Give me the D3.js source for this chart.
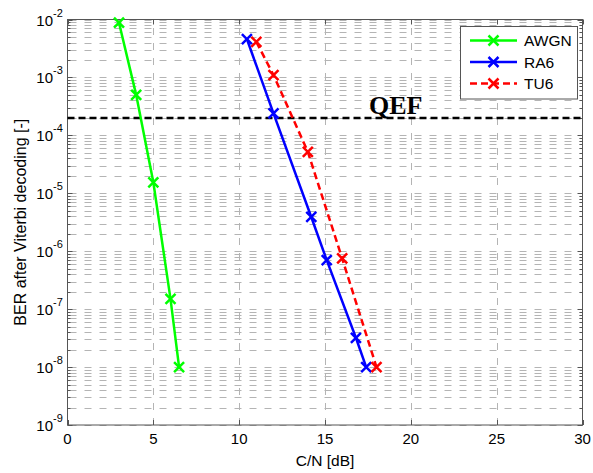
<!DOCTYPE html>
<html>
<head>
<meta charset="utf-8">
<script src="https://cdn.jsdelivr.net/npm/d3@7"></script>
<style>
  html, body { margin: 0; padding: 0; background: #fff; }
  svg { display: block; }
  text { font-family: "Liberation Sans", Arial, Helvetica, sans-serif; }
</style>
</head>
<body>
<svg id="chart" width="593" height="473"></svg>
<script>
// ---- data ----
const seriesNames = ["AWGN", "RA6", "TU6"];
const awgnX = [3, 4, 5, 6, 6.5];
const awgnY = [8.8e-3, 5e-4, 1.55e-5, 1.5e-7, 1e-8];
const ra6X = [10.45, 12, 14.2, 15.1, 16.8, 17.4];
const ra6Y = [4.6e-3, 2.4e-4, 3.9e-6, 7e-7, 3.2e-8, 1e-8];
const tu6X = [11, 12, 14, 16, 18];
const tu6Y = [4.1e-3, 1.1e-3, 5.2e-5, 7.5e-7, 1e-8];
const qefLevel = 2e-4;
const xTicks = [0, 5, 10, 15, 20, 25, 30];
const yExponents = [-2, -3, -4, -5, -6, -7, -8, -9];
const xLabel = "C/N [dB]";
const yLabel = "BER after Viterbi decoding [-]";
const qefLabel = "QEF";

// ---- layout ----
const L = 67.5, R = 582.5, T = 19.5, B = 425;
const svg = d3.select("#chart");
const x = d3.scaleLinear().domain([0, 30]).range([L, R]);
const y = d3.scaleLog().domain([1e-9, 1e-2]).range([B, T]);

const colors = { AWGN: "#00ff00", RA6: "#0000ff", TU6: "#ff0000" };
const dashes = { AWGN: null, RA6: null, TU6: "7,4" };
const data = [
  { name: "AWGN", pts: awgnX.map((v, i) => [v, awgnY[i]]) },
  { name: "RA6", pts: ra6X.map((v, i) => [v, ra6Y[i]]) },
  { name: "TU6", pts: tu6X.map((v, i) => [v, tu6Y[i]]) }
];

// ---- grid ----
const grid = svg.append("g");
const minorVals = [];
for (let e = -9; e < -2; e++) for (let m = 1; m <= 9; m++) minorVals.push(m * Math.pow(10, e));
minorVals.push(1e-2);
grid.selectAll("line.h").data(minorVals).enter().append("line")
  .attr("x1", L + 2).attr("x2", R)
  .attr("y1", d => Math.round(y(d)) + 0.5).attr("y2", d => Math.round(y(d)) + 0.5)
  .attr("stroke", "#b4b4b4").attr("stroke-width", 1).attr("stroke-dasharray", "7,8");
grid.selectAll("line.v").data(xTicks.slice(1, -1)).enter().append("line")
  .attr("x1", d => Math.round(x(d)) + 0.5).attr("x2", d => Math.round(x(d)) + 0.5)
  .attr("y1", B).attr("y2", T)
  .attr("stroke", "#b4b4b4").attr("stroke-width", 1).attr("stroke-dasharray", "7,8");

// ---- axes box & ticks ----
const ax = svg.append("g");
ax.append("rect").attr("x", L).attr("y", T).attr("width", R - L).attr("height", B - T)
  .attr("fill", "none").attr("stroke", "#555").attr("stroke-width", 1);
xTicks.forEach(t => {
  const px = Math.round(x(t)) + 0.5;
  ax.append("line").attr("x1", px).attr("x2", px).attr("y1", B).attr("y2", B - 5).attr("stroke", "#555");
  ax.append("line").attr("x1", px).attr("x2", px).attr("y1", T).attr("y2", T + 5).attr("stroke", "#555");
  ax.append("text").attr("x", x(t)).attr("y", 444).attr("text-anchor", "middle")
    .attr("font-size", 15).attr("fill", "#000").text(t);
});
minorVals.forEach(v => {
  const py = Math.round(y(v)) + 0.5;
  const major = Math.abs(Math.log10(v) - Math.round(Math.log10(v))) < 1e-9;
  const len = major ? 5 : 3;
  ax.append("line").attr("x1", L).attr("x2", L + len).attr("y1", py).attr("y2", py).attr("stroke", "#555");
  ax.append("line").attr("x1", R).attr("x2", R - len).attr("y1", py).attr("y2", py).attr("stroke", "#555");
});
yExponents.forEach(e => {
  const py = y(Math.pow(10, e));
  ax.append("text").attr("x", 53).attr("y", py + 6).attr("text-anchor", "end")
    .attr("font-size", 15).attr("fill", "#000").text("10");
  ax.append("text").attr("x", 53).attr("y", py - 3).attr("text-anchor", "start")
    .attr("font-size", 11).attr("fill", "#000").text(String(e));
});

// axis labels
svg.append("text").attr("x", (L + R) / 2).attr("y", 466).attr("text-anchor", "middle")
  .attr("font-size", 15.5).attr("fill", "#000").text(xLabel);
svg.append("text").attr("transform", `translate(25.5,${(T + B) / 2}) rotate(-90)`)
  .attr("text-anchor", "middle").attr("font-size", 16).attr("fill", "#000").text(yLabel);

// ---- QEF line ----
svg.append("line").attr("x1", L).attr("x2", R).attr("y1", y(qefLevel)).attr("y2", y(qefLevel))
  .attr("stroke", "#000").attr("stroke-width", 2.5).attr("stroke-dasharray", "7,4");
svg.append("text").attr("x", 369).attr("y", y(qefLevel) - 4)
  .style("font-family", "'Liberation Serif', 'Times New Roman', serif")
  .attr("font-weight", "bold").attr("font-size", 26).attr("fill", "#000").text(qefLabel);

// ---- series ----
const line = d3.line().x(d => x(d[0])).y(d => y(d[1]));
const ms = 5;
function cross(g, cx, cy, color) {
  g.append("path").attr("d", `M${cx - ms},${cy - ms}L${cx + ms},${cy + ms}M${cx - ms},${cy + ms}L${cx + ms},${cy - ms}`)
    .attr("stroke", color).attr("stroke-width", 2.5).attr("fill", "none");
}
const sg = svg.append("g");
data.forEach(s => {
  sg.append("path").datum(s.pts).attr("d", line).attr("fill", "none")
    .attr("stroke", colors[s.name]).attr("stroke-width", 2.5)
    .attr("stroke-dasharray", dashes[s.name]);
  s.pts.forEach(p => cross(sg, x(p[0]), y(p[1]), colors[s.name]));
});

// ---- legend ----
const lg = svg.append("g");
lg.append("rect").attr("x", 460.5).attr("y", 26.5).attr("width", 117).attr("height", 72.5)
  .attr("fill", "#fff").attr("stroke", "#555").attr("stroke-width", 1);
seriesNames.forEach((n, i) => {
  const ly = 40.5 + i * 21.5;
  lg.append("line").attr("x1", 470).attr("x2", 517).attr("y1", ly).attr("y2", ly)
    .attr("stroke", colors[n]).attr("stroke-width", 2.5).attr("stroke-dasharray", dashes[n]);
  cross(lg, 493.5, ly, colors[n]);
  lg.append("text").attr("x", 524).attr("y", ly + 5.5).attr("font-size", 15.5).attr("fill", "#000").text(n);
});
</script>
</body>
</html>
